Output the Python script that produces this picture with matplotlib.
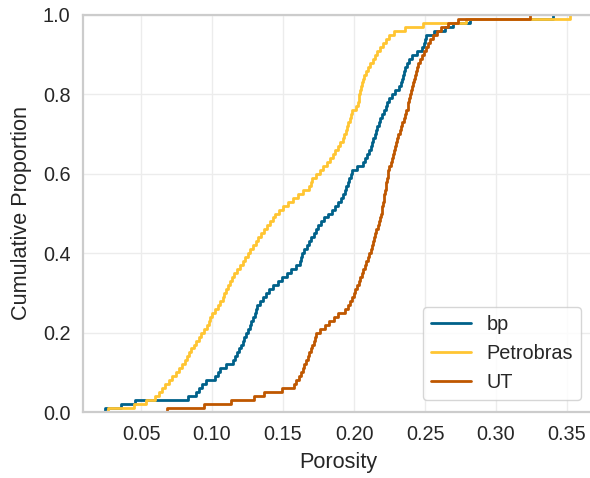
import matplotlib
matplotlib.use("Agg")
import matplotlib.pyplot as plt
import seaborn as sns

# porosity samples (one value per 1% of each group)
companies = ["bp", "Petrobras", "UT"]
colors = ["#00618a", "#ffc532", "#bf5700"]

bp_porosity = [
    0.0248, 0.0359, 0.0458, 0.0831, 0.0887, 0.0908, 0.0927, 0.0958, 0.1021, 0.1039,
    0.1056, 0.1099, 0.1151, 0.1165, 0.1179, 0.1191, 0.1203, 0.1215, 0.1227, 0.1239,
    0.1252, 0.1265, 0.1278, 0.1291, 0.1304, 0.1310, 0.1317, 0.1338, 0.1360, 0.1382,
    0.1404, 0.1433, 0.1463, 0.1494, 0.1525, 0.1556, 0.1588, 0.1620, 0.1628, 0.1637,
    0.1645, 0.1666, 0.1684, 0.1700, 0.1717, 0.1733, 0.1749, 0.1766, 0.1791, 0.1816,
    0.1842, 0.1865, 0.1886, 0.1908, 0.1925, 0.1936, 0.1946, 0.1957, 0.1967, 0.1977,
    0.1988, 0.2020, 0.2061, 0.2075, 0.2090, 0.2105, 0.2117, 0.2127, 0.2136, 0.2146,
    0.2155, 0.2164, 0.2174, 0.2183, 0.2196, 0.2208, 0.2222, 0.2235, 0.2247, 0.2266,
    0.2290, 0.2314, 0.2328, 0.2335, 0.2342, 0.2349, 0.2356, 0.2370, 0.2389, 0.2408,
    0.2445, 0.2482, 0.2491, 0.2500, 0.2509, 0.2563, 0.2641, 0.2697, 0.2820, 0.3400,
]
petrobras_porosity = [
    0.0265, 0.0449, 0.0534, 0.0599, 0.0627, 0.0648, 0.0671, 0.0695, 0.0718, 0.0744,
    0.0768, 0.0792, 0.0808, 0.0823, 0.0839, 0.0855, 0.0872, 0.0889, 0.0906, 0.0923,
    0.0944, 0.0966, 0.0978, 0.0989, 0.1002, 0.1020, 0.1039, 0.1058, 0.1075, 0.1087,
    0.1101, 0.1114, 0.1127, 0.1141, 0.1158, 0.1178, 0.1197, 0.1216, 0.1234, 0.1253,
    0.1271, 0.1290, 0.1308, 0.1327, 0.1346, 0.1367, 0.1387, 0.1406, 0.1426, 0.1446,
    0.1470, 0.1501, 0.1532, 0.1567, 0.1606, 0.1644, 0.1682, 0.1697, 0.1707, 0.1733,
    0.1759, 0.1785, 0.1812, 0.1832, 0.1850, 0.1868, 0.1886, 0.1904, 0.1923, 0.1932,
    0.1942, 0.1951, 0.1960, 0.1970, 0.1979, 0.1988, 0.2011, 0.2025, 0.2032, 0.2038,
    0.2044, 0.2050, 0.2056, 0.2063, 0.2073, 0.2085, 0.2098, 0.2115, 0.2131, 0.2147,
    0.2164, 0.2184, 0.2204, 0.2224, 0.2244, 0.2283, 0.2361, 0.2486, 0.2789, 0.3520,
]
ut_porosity = [
    0.0683, 0.0944, 0.1132, 0.1294, 0.1366, 0.1492, 0.1575, 0.1594, 0.1614, 0.1628,
    0.1639, 0.1651, 0.1663, 0.1674, 0.1685, 0.1696, 0.1706, 0.1715, 0.1725, 0.1735,
    0.1760, 0.1794, 0.1827, 0.1858, 0.1889, 0.1939, 0.1961, 0.1973, 0.1985, 0.1997,
    0.2010, 0.2022, 0.2034, 0.2045, 0.2056, 0.2066, 0.2077, 0.2087, 0.2097, 0.2108,
    0.2117, 0.2125, 0.2134, 0.2142, 0.2151, 0.2158, 0.2167, 0.2175, 0.2184, 0.2189,
    0.2195, 0.2200, 0.2204, 0.2209, 0.2213, 0.2218, 0.2222, 0.2227, 0.2232, 0.2236,
    0.2242, 0.2249, 0.2257, 0.2265, 0.2273, 0.2280, 0.2287, 0.2295, 0.2303, 0.2312,
    0.2321, 0.2330, 0.2340, 0.2349, 0.2358, 0.2368, 0.2377, 0.2383, 0.2389, 0.2395,
    0.2402, 0.2408, 0.2415, 0.2422, 0.2428, 0.2435, 0.2441, 0.2451, 0.2465, 0.2479,
    0.2492, 0.2506, 0.2519, 0.2532, 0.2555, 0.2584, 0.2611, 0.2662, 0.2732, 0.3240,
]
series = [bp_porosity, petrobras_porosity, ut_porosity]

x_ticks = [0.05, 0.10, 0.15, 0.20, 0.25, 0.30, 0.35]
y_ticks = [0.0, 0.2, 0.4, 0.6, 0.8, 1.0]

sns.set_theme(style="whitegrid", font_scale=1.3)
plt.rcParams["font.family"] = ["Liberation Sans", "DejaVu Sans"]
plt.rcParams["axes.edgecolor"] = "#cccccc"
plt.rcParams["axes.linewidth"] = 1.6
plt.rcParams["grid.color"] = "#ececec"

fig = plt.figure(figsize=(5.9, 4.78), dpi=100)
ax = fig.add_axes([83 / 590, 66 / 478, 510 / 590, 397 / 478])

for name, vals, c in zip(companies, series, colors):
    sns.ecdfplot(x=vals, ax=ax, color=c, label=name, linewidth=2)

ax.set_xlim(0.00915, 0.3683)
ax.set_ylim(0, 1)
ax.set_xticks(x_ticks)
ax.set_xticklabels([f"{t:.2f}" for t in x_ticks])
ax.set_yticks(y_ticks)
ax.set_yticklabels([f"{t:.1f}" for t in y_ticks])
ax.tick_params(axis="both", length=0, pad=9, colors="#262626")
ax.set_xlabel("Porosity", labelpad=6)
ax.set_ylabel("Cumulative Proportion", labelpad=8)

ax.legend(loc="lower right", frameon=True, borderaxespad=0.6)

fig.savefig("out.png", dpi=100)
